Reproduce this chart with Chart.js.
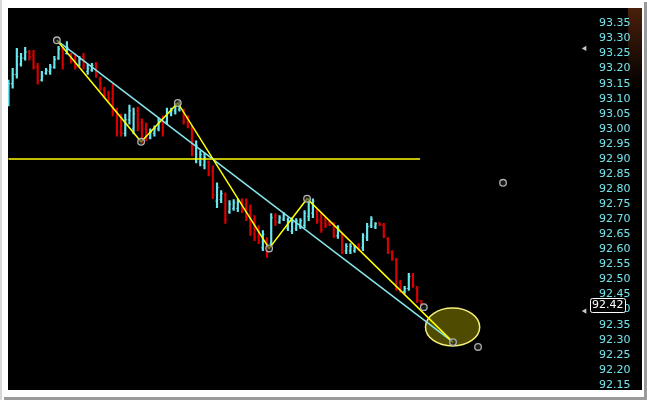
<!DOCTYPE html>
<html>
<head>
<meta charset="utf-8">
<script src="https://cdn.jsdelivr.net/npm/chart.js@4"></script>
<style>
  html, body { margin: 0; padding: 0; background: #fff; }
  canvas { display: block; }
</style>
</head>
<body>
<canvas id="chart" width="647" height="403"></canvas>
<script>
// OHLC bars, one per period (index = bar number)
const opens = [
  93.090, 93.150, 93.180, 93.215, 93.235, 93.255, 93.245, 93.205, 93.162, 93.185,
  93.190, 93.205, 93.235, 93.265, 93.250, 93.245, 93.230, 93.210, 93.240, 93.190,
  93.195, 93.215, 93.165, 93.130, 93.115, 93.100, 93.060, 93.040, 92.985, 93.030,
  93.000, 93.060, 93.020, 93.000, 92.970, 92.985, 93.000, 93.030, 93.025, 93.050,
  93.060, 93.065, 93.060, 93.035, 93.000, 92.900, 92.890, 92.880, 92.890, 92.860,
  92.760, 92.765, 92.780, 92.725, 92.735, 92.735, 92.760, 92.750, 92.730, 92.700,
  92.670, 92.605, 92.630, 92.620, 92.710, 92.690, 92.700, 92.670, 92.660, 92.670,
  92.675, 92.680, 92.710, 92.720, 92.725, 92.710, 92.700, 92.690, 92.685, 92.645,
  92.645, 92.595, 92.595, 92.595, 92.615, 92.605, 92.640, 92.680, 92.675, 92.688,
  92.680, 92.635, 92.590, 92.565, 92.490, 92.460, 92.470, 92.515, 92.470, 92.430
];
const highs = [
  93.162, 93.201, 93.267, 93.251, 93.271, 93.261, 93.261, 93.218, 93.191, 93.201,
  93.214, 93.241, 93.274, 93.271, 93.290, 93.251, 93.248, 93.241, 93.251, 93.214,
  93.218, 93.221, 93.171, 93.138, 93.125, 93.148, 93.069, 93.049, 93.049, 93.079,
  93.069, 93.072, 93.033, 93.019, 93.000, 93.010, 93.036, 93.043, 93.069, 93.069,
  93.086, 93.092, 93.066, 93.043, 93.010, 92.960, 92.927, 92.920, 92.894, 92.877,
  92.821, 92.795, 92.788, 92.762, 92.765, 92.768, 92.768, 92.768, 92.748, 92.712,
  92.679, 92.662, 92.639, 92.719, 92.719, 92.712, 92.722, 92.705, 92.705, 92.702,
  92.702, 92.729, 92.768, 92.768, 92.735, 92.722, 92.705, 92.695, 92.689, 92.679,
  92.652, 92.619, 92.619, 92.613, 92.619, 92.652, 92.686, 92.709, 92.689, 92.689,
  92.686, 92.639, 92.596, 92.570, 92.497, 92.477, 92.520, 92.520, 92.477, 92.431
];
const lows = [
  93.076, 93.135, 93.168, 93.208, 93.228, 93.228, 93.198, 93.148, 93.158, 93.181,
  93.181, 93.201, 93.231, 93.198, 93.248, 93.218, 93.198, 93.208, 93.198, 93.181,
  93.191, 93.171, 93.128, 93.102, 93.092, 93.043, 92.976, 92.976, 92.976, 93.016,
  92.983, 92.993, 92.950, 92.960, 92.967, 92.976, 92.993, 92.976, 93.016, 93.043,
  93.049, 93.059, 93.016, 93.003, 92.910, 92.887, 92.877, 92.867, 92.844, 92.768,
  92.738, 92.755, 92.686, 92.719, 92.729, 92.725, 92.722, 92.695, 92.646, 92.629,
  92.619, 92.596, 92.573, 92.613, 92.679, 92.686, 92.695, 92.662, 92.652, 92.662,
  92.669, 92.672, 92.695, 92.705, 92.686, 92.656, 92.672, 92.679, 92.639, 92.636,
  92.586, 92.586, 92.586, 92.590, 92.596, 92.596, 92.629, 92.672, 92.669, 92.679,
  92.639, 92.586, 92.563, 92.464, 92.457, 92.454, 92.464, 92.474, 92.424, 92.414
];
const closes = [
  93.150, 93.180, 93.240, 93.235, 93.255, 93.240, 93.205, 93.160, 93.175, 93.195,
  93.205, 93.230, 93.265, 93.215, 93.270, 93.225, 93.205, 93.230, 93.210, 93.200,
  93.210, 93.180, 93.135, 93.110, 93.100, 93.060, 92.990, 92.985, 93.030, 93.060,
  93.050, 93.010, 92.965, 92.970, 92.990, 93.000, 93.025, 92.990, 93.055, 93.060,
  93.075, 93.080, 93.025, 93.010, 92.925, 92.945, 92.915, 92.905, 92.850, 92.780,
  92.805, 92.785, 92.700, 92.750, 92.755, 92.760, 92.730, 92.705, 92.660, 92.640,
  92.625, 92.650, 92.590, 92.705, 92.690, 92.705, 92.715, 92.695, 92.690, 92.695,
  92.695, 92.720, 92.755, 92.760, 92.695, 92.665, 92.680, 92.682, 92.645, 92.670,
  92.595, 92.610, 92.610, 92.608, 92.600, 92.645, 92.675, 92.700, 92.685, 92.682,
  92.645, 92.592, 92.568, 92.470, 92.462, 92.470, 92.510, 92.480, 92.430, 92.420
];

// price axis labels
const tickLabels = [
  92.15, 92.20, 92.25, 92.30, 92.35, 92.40, 92.45, 92.50, 92.55, 92.60, 92.65, 92.70, 92.75,
  92.80, 92.85, 92.90, 92.95, 93.00, 93.05, 93.10, 93.15, 93.20, 93.25, 93.30, 93.35
];

// zigzag swing points (bar index, price)
const zigzagX = [11.6, 31.8, 40.6, 62.5, 71.6, 106.6];
const zigzagY = [93.294, 92.957, 93.086, 92.603, 92.768, 92.292];
// trend line end points
const trendX = [11.6, 106.6];
const trendY = [93.294, 92.292];
// horizontal level
const levelPrice = 92.90;
const levelX = [0, 98.7];
// loose marker circles
const markerX = [99.6, 118.6, 112.6];
const markerY = [92.408, 92.821, 92.276];
// axis arrows
const arrowPrices = [93.267, 92.395];
const lastPrice = 92.42;
// target ellipse (centre and radii in bar/price units)
const target = { x: 106.5, y: 92.342, rx: 6.5, ry: 0.063 };

const UP = '#6ae6ee';
const DOWN = '#d80000';
const barColors = closes.map((c, i) => c >= opens[i] ? UP : DOWN);

const frame = {
  id: 'frame',
  beforeDraw(chart) {
    const ctx = chart.ctx;
    ctx.save();
    ctx.fillStyle = '#fff';
    ctx.fillRect(0, 0, 647, 403);
    ctx.fillStyle = '#d8d8d8';
    ctx.fillRect(0, 0, 2, 400);
    ctx.fillStyle = '#9a9a9a';
    ctx.fillRect(644, 2, 3, 398);
    ctx.fillRect(4, 397, 643, 3);
    ctx.fillStyle = '#000';
    ctx.fillRect(8, 8, 634, 382);
    const g = ctx.createLinearGradient(0, 8, 0, 90);
    g.addColorStop(0, '#4a200c');
    g.addColorStop(1, '#000');
    ctx.fillStyle = g;
    ctx.fillRect(628, 8, 14, 82);
    ctx.restore();
  },
  beforeDatasetsDraw(chart) {
    const { ctx, scales: { x, y } } = chart;
    const cx = x.getPixelForValue(target.x);
    const cy = y.getPixelForValue(target.y);
    const rx = x.getPixelForValue(target.x + target.rx) - cx;
    const ry = cy - y.getPixelForValue(target.y + target.ry);
    ctx.save();
    ctx.beginPath();
    ctx.ellipse(cx, cy, rx, ry, 0, 0, Math.PI * 2);
    ctx.fillStyle = '#4f4b00';
    ctx.fill();
    ctx.lineWidth = 1.5;
    ctx.strokeStyle = '#f4f07a';
    ctx.stroke();
    ctx.restore();
  },
  afterDraw(chart) {
    const { ctx, scales: { y } } = chart;
    const py = Math.round(y.getPixelForValue(lastPrice)) + 1.5;
    ctx.save();
    ctx.fillStyle = '#000';
    ctx.strokeStyle = '#fff';
    ctx.lineWidth = 1;
    ctx.beginPath();
    ctx.roundRect(590.5, py - 7, 35, 14, 2);
    ctx.fill();
    ctx.stroke();
    ctx.fillStyle = '#fff';
    ctx.font = '11px "DejaVu Sans"';
    ctx.textBaseline = 'middle';
    ctx.textAlign = 'left';
    ctx.fillText(lastPrice.toFixed(2), 592, py);
    ctx.restore();
  }
};

new Chart(document.getElementById('chart'), {
  data: {
    datasets: [
      {
        type: 'scatter',
        order: 0,
        data: arrowPrices.map(p => ({ x: 138.2, y: p })),
        pointStyle: 'triangle',
        rotation: 270,
        radius: 3,
        backgroundColor: '#c8c8c8',
        borderColor: '#c8c8c8',
        borderWidth: 0,
        clip: false
      },
      {
        type: 'scatter',
        order: 1,
        data: zigzagX.map((v, i) => ({ x: v, y: zigzagY[i] }))
          .concat(markerX.map((v, i) => ({ x: v, y: markerY[i] }))),
        pointStyle: 'circle',
        radius: 3.3,
        borderWidth: 1.3,
        borderColor: '#b0b0b0',
        backgroundColor: 'rgba(40,40,40,0.6)'
      },
      {
        type: 'line',
        order: 2,
        data: zigzagX.map((v, i) => ({ x: v, y: zigzagY[i] })),
        borderColor: '#ffff00',
        borderWidth: 1.5,
        pointRadius: 0,
        tension: 0
      },
      {
        type: 'line',
        order: 3,
        data: trendX.map((v, i) => ({ x: v, y: trendY[i] })),
        borderColor: '#86e6ea',
        borderWidth: 1.5,
        pointRadius: 0
      },
      {
        type: 'line',
        order: 4,
        data: levelX.map(v => ({ x: v, y: levelPrice })),
        borderColor: '#ffff00',
        borderWidth: 1.5,
        pointRadius: 0
      },
      {
        // close ticks (right)
        type: 'scatter',
        order: 6,
        data: closes.map((c, i) => ({ x: i, y: c })),
        pointStyle: 'dash',
        radius: 1.6,
        borderWidth: 1,
        borderColor: barColors
      },
      {
        // open ticks (left)
        type: 'scatter',
        order: 7,
        data: opens.map((o, i) => ({ x: i, y: o })),
        pointStyle: 'dash',
        rotation: 180,
        radius: 1.6,
        borderWidth: 1,
        borderColor: barColors
      },
      {
        type: 'bar',
        order: 8,
        data: highs.map((h, i) => ({ x: i, y: [lows[i], h] })),
        backgroundColor: barColors,
        borderWidth: 0,
        barThickness: 1.5
      }
    ]
  },
  options: {
    responsive: false,
    animation: false,
    devicePixelRatio: 1,
    events: [],
    layout: { padding: { left: 8, top: 8, right: 5, bottom: 13 } },
    plugins: { legend: { display: false }, tooltip: { enabled: false } },
    scales: {
      x: {
        type: 'linear',
        display: false,
        offset: false,
        min: -0.12,
        max: 138.97
      },
      y: {
        position: 'right',
        min: 92.133,
        max: 93.396,
        border: { display: false },
        grid: { display: false },
        afterBuildTicks(scale) {
          scale.ticks = tickLabels.map(v => ({ value: v }));
        },
        afterFit(scale) {
          scale.width = 54;
        },
        ticks: {
          padding: 3,
          color: '#74e4ec',
          font: { family: 'DejaVu Sans', size: 11 },
          autoSkip: false,
          callback: v => v.toFixed(2)
        }
      }
    }
  },
  plugins: [frame]
});
</script>
</body>
</html>
